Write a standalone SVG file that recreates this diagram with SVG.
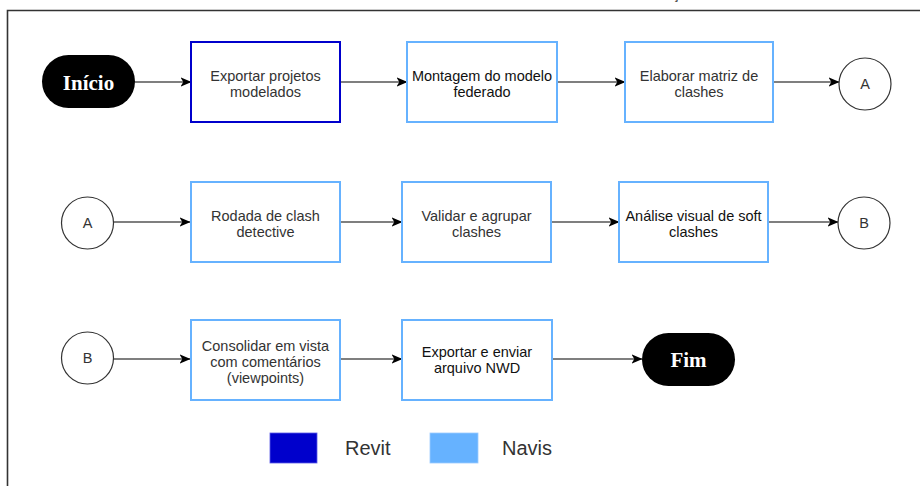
<svg xmlns="http://www.w3.org/2000/svg" width="920" height="486" viewBox="0 0 920 486">
  <style>
    .frame { fill: none; stroke: #333; stroke-width: 1.6; }
    .revit { fill: #fff; stroke: #0000CC; stroke-width: 2; }
    .navis { fill: #fff; stroke: #66B2FF; stroke-width: 2; }
    .pill { fill: #000; }
    .conn { fill: #fff; stroke: #333; stroke-width: 1.2; }
    .lbl { font-family: "Liberation Sans", Arial, sans-serif; font-size: 14.5px; fill: #333; text-anchor: middle; }
    .lbl.dark { fill: #111; }
    .term { font-family: "Liberation Serif", "Times New Roman", serif; font-size: 21px; font-weight: bold; fill: #fff; text-anchor: middle; }
    .edge { fill: none; stroke: #000; stroke-width: 1.2; }
    .legend { font-family: "Liberation Sans", Arial, sans-serif; font-size: 20px; fill: #333; }
  </style>
  <defs>
    <marker id="arrow" markerUnits="userSpaceOnUse" markerWidth="11" markerHeight="11" viewBox="0 0 10 10" refX="9.5" refY="5" orient="auto">
      <path d="M0,0.8 L10,5 L0,9.2 L2.5,5 z" fill="#000"/>
    </marker>
  </defs>

  <rect width="920" height="486" fill="#fff"/>

  <!-- page frame and clipped caption -->
  <path class="frame" d="M7.5,486 V10.5 H920"/>
  <text x="676" y="-1" font-family="Liberation Sans, Arial, sans-serif" font-size="14" fill="#333" text-anchor="middle">ç</text>

  <!-- connectors -->
  <g id="connectors">
    <line class="edge" x1="135" y1="82" x2="191" y2="82" marker-end="url(#arrow)"/>
    <line class="edge" x1="340" y1="82" x2="407" y2="82" marker-end="url(#arrow)"/>
    <line class="edge" x1="557" y1="82" x2="625" y2="82" marker-end="url(#arrow)"/>
    <line class="edge" x1="773" y1="82" x2="839" y2="82" marker-end="url(#arrow)"/>

    <line class="edge" x1="113" y1="222" x2="190" y2="222" marker-end="url(#arrow)"/>
    <line class="edge" x1="340" y1="222" x2="402" y2="222" marker-end="url(#arrow)"/>
    <line class="edge" x1="551" y1="222" x2="619" y2="222" marker-end="url(#arrow)"/>
    <line class="edge" x1="768" y1="222" x2="838" y2="222" marker-end="url(#arrow)"/>

    <line class="edge" x1="113" y1="359" x2="190" y2="359" marker-end="url(#arrow)"/>
    <line class="edge" x1="340" y1="359" x2="402" y2="359" marker-end="url(#arrow)"/>
    <line class="edge" x1="552" y1="359" x2="642" y2="359" marker-end="url(#arrow)"/>
  </g>

  <!-- row 1 -->
  <g id="inicio">
    <rect class="pill" x="42" y="55" width="93" height="53" rx="26.5"/>
    <text class="term" x="88.5" y="89.5">Início</text>
  </g>
  <g id="exportar-projetos">
    <rect class="revit" x="191" y="42" width="149" height="80"/>
    <text class="lbl" x="265.5" y="81">Exportar projetos</text>
    <text class="lbl" x="265.5" y="97">modelados</text>
  </g>
  <g id="montagem">
    <rect class="navis" x="407" y="42" width="150" height="80"/>
    <text class="lbl dark" x="482" y="81">Montagem do modelo</text>
    <text class="lbl dark" x="482" y="97">federado</text>
  </g>
  <g id="matriz">
    <rect class="navis" x="625" y="42" width="148" height="80"/>
    <text class="lbl" x="699" y="81">Elaborar matriz de</text>
    <text class="lbl" x="699" y="97">clashes</text>
  </g>
  <g id="conector-a-out">
    <circle class="conn" cx="865" cy="84" r="26"/>
    <text class="lbl" x="865" y="89">A</text>
  </g>

  <!-- row 2 -->
  <g id="conector-a-in">
    <circle class="conn" cx="87.5" cy="223" r="26"/>
    <text class="lbl" x="87.5" y="228">A</text>
  </g>
  <g id="clash-detective">
    <rect class="navis" x="191" y="182" width="149" height="80"/>
    <text class="lbl" x="265.5" y="220.5">Rodada de clash</text>
    <text class="lbl" x="265.5" y="236.5">detective</text>
  </g>
  <g id="validar">
    <rect class="navis" x="402" y="182" width="149" height="80"/>
    <text class="lbl" x="476.5" y="220.5">Validar e agrupar</text>
    <text class="lbl" x="476.5" y="236.5">clashes</text>
  </g>
  <g id="analise">
    <rect class="navis" x="619" y="182" width="149" height="80"/>
    <text class="lbl dark" x="693.5" y="220.5">Análise visual de soft</text>
    <text class="lbl dark" x="693.5" y="236.5">clashes</text>
  </g>
  <g id="conector-b-out">
    <circle class="conn" cx="864" cy="223" r="26"/>
    <text class="lbl" x="864" y="228">B</text>
  </g>

  <!-- row 3 -->
  <g id="conector-b-in">
    <circle class="conn" cx="87.5" cy="358" r="26"/>
    <text class="lbl" x="87.5" y="363">B</text>
  </g>
  <g id="consolidar">
    <rect class="navis" x="191" y="320" width="149" height="80"/>
    <text class="lbl" x="265.5" y="350.5">Consolidar em vista</text>
    <text class="lbl" x="265.5" y="366.5">com comentários</text>
    <text class="lbl" x="265.5" y="382.5">(viewpoints)</text>
  </g>
  <g id="exportar-nwd">
    <rect class="navis" x="402" y="320" width="150" height="80"/>
    <text class="lbl dark" x="477" y="357">Exportar e enviar</text>
    <text class="lbl dark" x="477" y="373">arquivo NWD</text>
  </g>
  <g id="fim">
    <rect class="pill" x="642" y="333" width="93" height="53" rx="26.5"/>
    <text class="term" x="688.5" y="367">Fim</text>
  </g>

  <!-- legend -->
  <g id="legenda">
    <rect x="270" y="433" width="47" height="30" fill="#0000CC" stroke="#5A5AE6" stroke-width="0.8"/>
    <text class="legend" x="345" y="455">Revit</text>
    <rect x="430" y="433" width="48" height="30" fill="#66B2FF" stroke="#9CCBFF" stroke-width="0.8"/>
    <text class="legend" x="502" y="455">Navis</text>
  </g>
</svg>
